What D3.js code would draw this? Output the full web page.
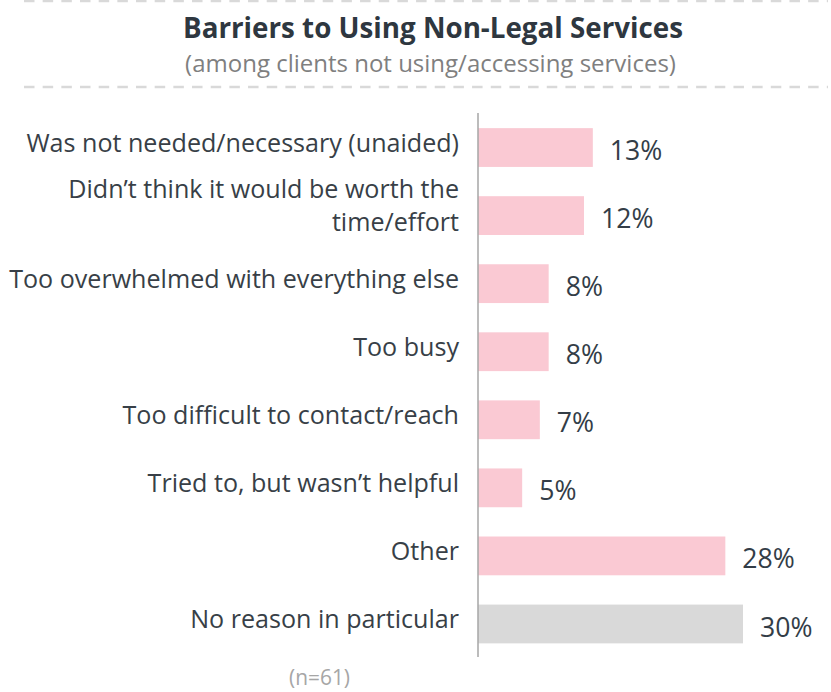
<!DOCTYPE html>
<html>
<head>
<meta charset="utf-8">
<script src="https://cdn.jsdelivr.net/npm/d3@7"></script>
<style>
  body { margin: 0; background: #ffffff; }
  svg { display: block; }
</style>
</head>
<body>
<svg id="chart" width="831" height="692"></svg>
<script>
// ---- data ----
const categories = [
  "Was not needed/necessary (unaided)",
  "Didn’t think it would be worth the time/effort",
  "Too overwhelmed with everything else",
  "Too busy",
  "Too difficult to contact/reach",
  "Tried to, but wasn’t helpful",
  "Other",
  "No reason in particular"
];
const values = [13, 12, 8, 8, 7, 5, 28, 30];
const neutralCategory = "No reason in particular";

const titleText = "Barriers to Using Non-Legal Services";
const subtitleText = "(among clients not using/accessing services)";
const footnoteText = "(n=61)";

// ---- setup ----
const W = 831, H = 692;
const FONT = "'Open Sans', 'Noto Sans', sans-serif";
const svg = d3.select("#chart");

// font size that makes a string span a given width
function fitSize(text, weight, width) {
  const t = svg.append("text")
    .attr("font-family", FONT).attr("font-weight", weight)
    .attr("font-size", 100).text(text);
  const w = t.node().getComputedTextLength();
  t.remove();
  return 100 * width / w;
}

const axisX = 478;
const x = d3.scaleLinear().domain([0, 30]).range([axisX, axisX + 265]);
const y = d3.scaleBand()
  .domain(categories)
  .range([113.5, 658])
  .paddingInner(0.43)
  .paddingOuter(0.215);

// ---- header ----
const dash = svg.append("g")
  .attr("stroke", "#d9d9d9").attr("stroke-width", 2.5)
  .attr("stroke-dasharray", "10.5 8.17");
dash.append("line").attr("x1", 24).attr("x2", 828).attr("y1", 1).attr("y2", 1);
dash.append("line").attr("x1", 24).attr("x2", 828).attr("y1", 87).attr("y2", 87);

const titleSize = Math.min(28, fitSize(titleText, 700, 500));
svg.append("text")
  .attr("x", 433).attr("y", 38)
  .attr("text-anchor", "middle")
  .attr("font-family", FONT).attr("font-weight", 700)
  .attr("font-size", titleSize)
  .attr("fill", "#2e3740")
  .text(titleText);

const subSize = Math.min(24, fitSize(subtitleText, 400, 515));
svg.append("text")
  .attr("x", 430.5).attr("y", 72)
  .attr("text-anchor", "middle")
  .attr("font-family", FONT)
  .attr("font-size", subSize)
  .attr("fill", "#7f7f7f")
  .text(subtitleText);

// ---- bars ----
svg.append("g")
  .selectAll("rect")
  .data(categories)
  .join("rect")
  .attr("x", x(0))
  .attr("y", d => y(d))
  .attr("width", (d, i) => x(values[i]) - x(0))
  .attr("height", y.bandwidth())
  .attr("fill", d => d === neutralCategory ? "#d9d9d9" : "#fac9d3");

// value labels
const valueSize = fitSize("30%", 400, 52.5);
svg.append("g")
  .selectAll("text")
  .data(categories)
  .join("text")
  .attr("x", (d, i) => x(values[i]) + 17)
  .attr("y", d => y(d) + y.bandwidth() / 2 + 3 + 0.36 * valueSize)
  .attr("font-family", FONT)
  .attr("font-size", valueSize)
  .attr("fill", "#333d47")
  .text((d, i) => values[i] + "%");

// category labels, wrapped to the label column
const labelSize = fitSize("Too overwhelmed with everything else", 400, 450);
const labelRight = 459;
const lineStep = 33;

function wrapLines(text, maxWidth) {
  const words = text.split(" ");
  const probe = svg.append("text")
    .attr("font-family", FONT).attr("font-size", labelSize);
  const lines = [];
  let cur = [];
  for (const w of words) {
    const trial = cur.concat(w).join(" ");
    probe.text(trial);
    if (cur.length && probe.node().getComputedTextLength() > maxWidth) {
      lines.push(cur.join(" "));
      cur = [w];
    } else {
      cur.push(w);
    }
  }
  if (cur.length) lines.push(cur.join(" "));
  probe.remove();
  return lines;
}

const labelG = svg.append("g")
  .attr("font-family", FONT)
  .attr("font-size", labelSize)
  .attr("fill", "#383f47")
  .attr("text-anchor", "end");

categories.forEach(c => {
  const lines = wrapLines(c, 452);
  const n = lines.length;
  const mid = y(c) + y.bandwidth() / 2 - 5 - (n - 1) * 5;
  const t = labelG.append("text").attr("x", labelRight);
  lines.forEach((ln, i) => {
    t.append("tspan")
      .attr("x", labelRight)
      .attr("y", mid + (i - (n - 1) / 2) * lineStep + 0.36 * labelSize)
      .text(ln);
  });
});

// value axis baseline
svg.append("line")
  .attr("x1", x(0)).attr("x2", x(0))
  .attr("y1", 113).attr("y2", 657)
  .attr("stroke", "#a6a6a6").attr("stroke-width", 1.5);

// ---- footnote ----
svg.append("text")
  .attr("x", 319.5).attr("y", 685)
  .attr("text-anchor", "middle")
  .attr("font-family", FONT)
  .attr("font-size", fitSize(footnoteText, 400, 61))
  .attr("fill", "#a6a6a6")
  .text(footnoteText);
</script>
</body>
</html>
